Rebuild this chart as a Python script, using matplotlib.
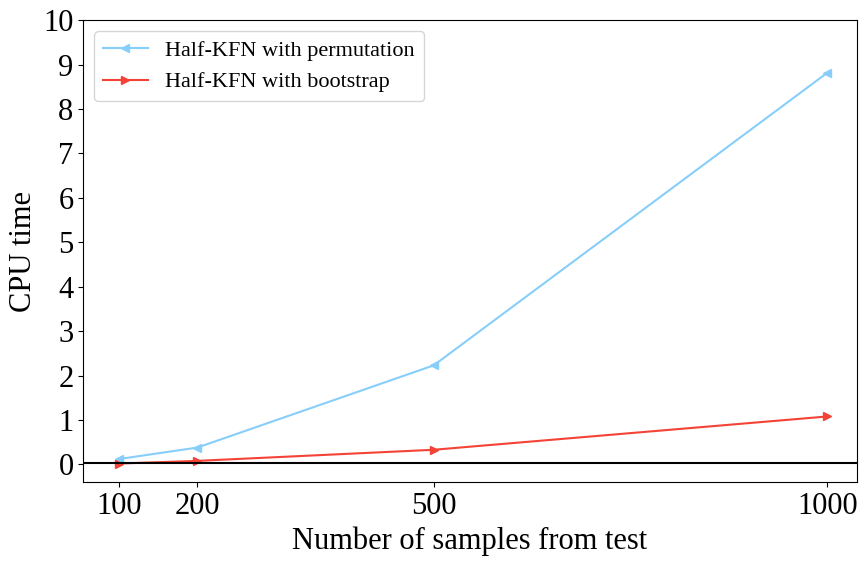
import numpy as np
import matplotlib
matplotlib.use("Agg")
import matplotlib.pyplot as plt

plt.rcParams['font.family'] = ['Liberation Serif', 'DejaVu Serif']

n_samples = [100, 200, 500, 1000]
cpu_permutation = [0.12, 0.38, 2.23, 8.82]
cpu_bootstrap = [0.02, 0.08, 0.33, 1.08]
yticks = list(range(0, 11))

fig = plt.figure(figsize=(8.67, 5.62), dpi=100)
ax = fig.add_axes([0.096, 0.142, 0.892, 0.822])

ax.plot(n_samples, cpu_permutation, color='#87CEFA', marker='<', markersize=6,
        linewidth=1.5, label='Half-KFN with permutation')
ax.plot(n_samples, cpu_bootstrap, color='#F44336', marker='>', markersize=6,
        linewidth=1.5, label='Half-KFN with bootstrap')
ax.axhline(0.04, color='black', linewidth=1.5)

ax.set_xlim(55, 1037)
ax.set_ylim(-0.4, 10)
ax.set_xticks(n_samples)
ax.set_yticks(yticks)
ax.tick_params(labelsize=22)
ax.set_xlabel('Number of samples from test', fontsize=22)
ax.set_ylabel('CPU time', fontsize=22)
ax.legend(loc='upper left', fontsize=16)

fig.savefig('out.png', dpi=100)
